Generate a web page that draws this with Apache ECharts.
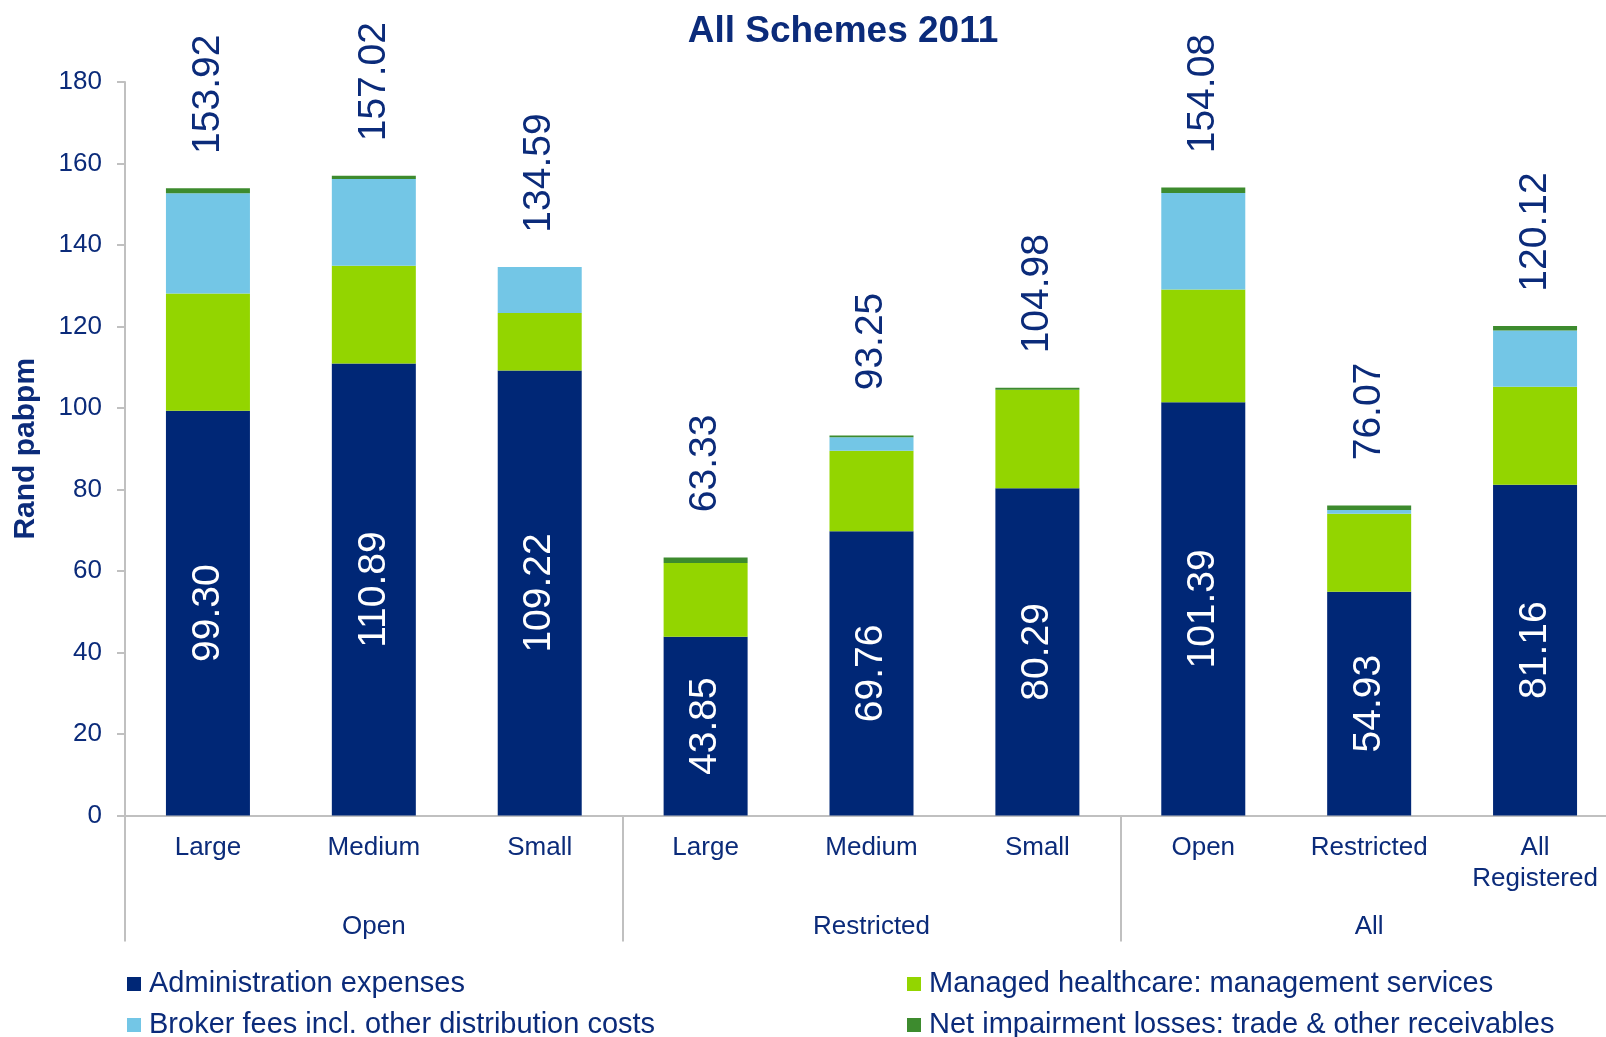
<!DOCTYPE html>
<html>
<head>
<meta charset="utf-8">
<script src="https://cdn.jsdelivr.net/npm/echarts@6/dist/echarts.min.js"></script>
<style>
html,body{margin:0;padding:0;background:#fff;overflow:hidden;}
#chart{width:1620px;height:1037px;}
</style>
</head>
<body>
<div id="chart"></div>
<script>
// ---- data ----
const categories = ['Large', 'Medium', 'Small', 'Large', 'Medium', 'Small', 'Open', 'Restricted', 'All\nRegistered'];
const groups = ['Open', 'Restricted', 'All'];
const seriesNames = [
  'Administration expenses',
  'Managed healthcare: management services',
  'Broker fees incl. other distribution costs',
  'Net impairment losses: trade & other receivables'
];
const adminExpenses = [99.30, 110.89, 109.22, 43.85, 69.76, 80.29, 101.39, 54.93, 81.16];
const managedHealthcare = [28.80, 24.00, 14.10, 18.10, 19.74, 24.16, 27.70, 19.13, 24.04];
const brokerFees = [24.60, 21.30, 11.27, 0.00, 3.30, 0.00, 23.70, 0.90, 13.80];
const netImpairment = [1.22, 0.83, 0.00, 1.38, 0.45, 0.53, 1.29, 1.11, 1.12];
const totals = [153.92, 157.02, 134.59, 63.33, 93.25, 104.98, 154.08, 76.07, 120.12];
const yTicks = { min: 0, max: 180, interval: 20 };

// ---- styling ----
const FONT = '"Liberation Sans", Arial, sans-serif';
const TXT = '#0B2B7A';
const GRAY = '#C0C0C0';
const colors = ['#002776', '#93D500', '#73C6E6', '#3D8B2E'];
const BW = 84;

const chart = echarts.init(document.getElementById('chart'), null, { renderer: 'canvas' });

const stackData = [adminExpenses, managedHealthcare, brokerFees, netImpairment];
const series = stackData.map((d, i) => ({
  name: seriesNames[i],
  type: 'bar',
  stack: 'total',
  data: d,
  barWidth: BW,
  barGap: '-100%',
  xAxisIndex: 0,
  itemStyle: { color: colors[i] },
  label: i === 0 ? {
    show: true,
    position: 'inside',
    rotate: 90,
    color: '#ffffff',
    fontSize: 39,
    fontFamily: FONT,
    formatter: p => p.value.toFixed(2)
  } : { show: false }
}));
series.push({
  name: 'Total',
  type: 'bar',
  data: totals,
  barWidth: BW,
  barGap: '-100%',
  xAxisIndex: 0,
  z: 1,
  itemStyle: { color: 'rgba(0,0,0,0)' },
  label: {
    show: true,
    position: 'top',
    distance: 94,
    rotate: 90,
    align: 'center',
    verticalAlign: 'middle',
    color: TXT,
    fontSize: 39,
    fontFamily: FONT,
    formatter: p => p.value.toFixed(2)
  }
});

function legendItem(idx, left, top) {
  return {
    data: [seriesNames[idx]],
    orient: 'horizontal',
    left: left,
    top: top,
    padding: 0,
    icon: 'rect',
    itemWidth: 14,
    itemHeight: 14,
    selectedMode: false,
    textStyle: { fontSize: 29, lineHeight: 30, color: TXT, fontFamily: FONT, padding: [0, 0, 0, 3] }
  };
}

const option = {
  backgroundColor: '#ffffff',
  animation: false,
  textStyle: { fontFamily: FONT },
  title: {
    text: 'All Schemes 2011',
    left: 838,
    top: 8,
    textAlign: 'center',
    textStyle: { fontSize: 37, fontWeight: 'bold', color: TXT, fontFamily: FONT }
  },
  legend: [
    legendItem(0, 127, 969),
    legendItem(2, 127, 1010),
    legendItem(1, 907, 969),
    legendItem(3, 907, 1010)
  ],
  grid: { left: 125, top: 82, right: 2, height: 733.5, containLabel: false },
  xAxis: [
    {
      type: 'category',
      data: categories,
      position: 'bottom',
      axisLine: { show: true, lineStyle: { color: GRAY, width: 2 } },
      axisTick: { show: false },
      axisLabel: {
        interval: 0,
        margin: 17,
        fontSize: 26,
        lineHeight: 31,
        color: TXT,
        fontFamily: FONT
      }
    },
    {
      type: 'category',
      data: groups,
      position: 'bottom',
      axisLine: { show: false },
      axisTick: { show: true, length: 126, lineStyle: { color: GRAY, width: 2 } },
      axisLabel: {
        interval: 0,
        margin: 98,
        fontSize: 26,
        color: TXT,
        fontFamily: FONT
      }
    }
  ],
  yAxis: {
    type: 'value',
    min: yTicks.min,
    max: yTicks.max,
    interval: yTicks.interval,
    name: 'Rand pabpm',
    nameLocation: 'middle',
    nameGap: 84,
    nameTextStyle: { fontSize: 30, fontWeight: 'bold', color: TXT, fontFamily: FONT },
    axisLine: { show: true, lineStyle: { color: GRAY, width: 2 } },
    axisTick: { show: true, length: 8, lineStyle: { color: GRAY, width: 2 } },
    splitLine: { show: false },
    axisLabel: { fontSize: 26, margin: 23, color: TXT, fontFamily: FONT }
  },
  series: series
};
chart.setOption(option);
</script>
</body>
</html>
